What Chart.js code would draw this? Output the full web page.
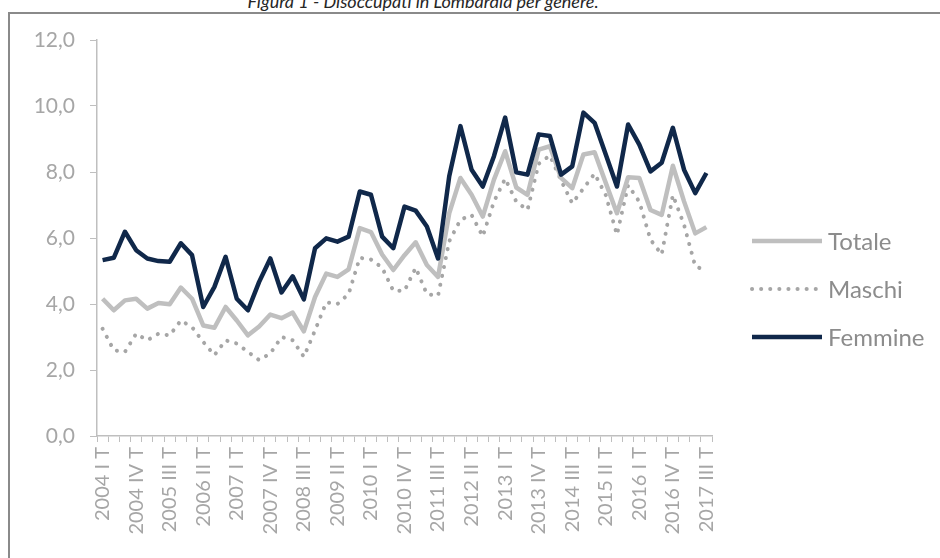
<!DOCTYPE html>
<html>
<head>
  <title>Disoccupati in Lombardia per genere</title>
  <script src="https://cdn.jsdelivr.net/npm/chart.js"></script>
  <style>
    body {
      margin: 0;
      padding: 0;
      width: 940px;
      height: 558px;
      overflow: hidden;
      background: #ffffff;
      position: relative;
      font-family: Lato, "Open Sans", sans-serif;
    }
    #title {
      position: absolute;
      top: -10px;
      left: 0;
      width: 846px;
      text-align: center;
      font-style: italic;
      font-size: 18px;
      color: #262626;
      white-space: nowrap;
    }
    #frame {
      position: absolute;
      left: 8px;
      top: 12px;
      width: 960px;
      height: 580px;
      border: 2px solid #8a8a8a;
    }
    #chart {
      position: absolute;
      left: 0;
      top: 0;
    }
  </style>
  <script>
    // quarters 2004 I T .. 2017 III T
    const quarters = [
      '2004 I T', '2004 II T', '2004 III T', '2004 IV T',
      '2005 I T', '2005 II T', '2005 III T', '2005 IV T',
      '2006 I T', '2006 II T', '2006 III T', '2006 IV T',
      '2007 I T', '2007 II T', '2007 III T', '2007 IV T',
      '2008 I T', '2008 II T', '2008 III T', '2008 IV T',
      '2009 I T', '2009 II T', '2009 III T', '2009 IV T',
      '2010 I T', '2010 II T', '2010 III T', '2010 IV T',
      '2011 I T', '2011 II T', '2011 III T', '2011 IV T',
      '2012 I T', '2012 II T', '2012 III T', '2012 IV T',
      '2013 I T', '2013 II T', '2013 III T', '2013 IV T',
      '2014 I T', '2014 II T', '2014 III T', '2014 IV T',
      '2015 I T', '2015 II T', '2015 III T', '2015 IV T',
      '2016 I T', '2016 II T', '2016 III T', '2016 IV T',
      '2017 I T', '2017 II T', '2017 III T'
    ];

    const totale = [
      4.16, 3.81, 4.11, 4.16, 3.86, 4.03, 3.99, 4.50, 4.16, 3.35,
      3.28, 3.91, 3.50, 3.05, 3.32, 3.68, 3.57, 3.74, 3.17, 4.21,
      4.92, 4.82, 5.05, 6.30, 6.18, 5.50, 5.03, 5.48, 5.87, 5.18,
      4.82, 6.75, 7.82, 7.31, 6.65, 7.77, 8.63, 7.53, 7.31, 8.68,
      8.78, 7.82, 7.51, 8.53, 8.60, 7.67, 6.75, 7.84, 7.82, 6.85,
      6.70, 8.19, 7.11, 6.14, 6.33
    ];

    const maschi = [
      3.25, 2.60, 2.55, 3.10, 2.90, 3.10, 3.05, 3.50, 3.30, 2.85,
      2.45, 2.90, 2.80, 2.55, 2.30, 2.50, 3.00, 2.90, 2.40, 3.20,
      4.05, 4.00, 4.30, 5.40, 5.35, 5.10, 4.40, 4.40, 5.10, 4.30,
      4.25, 5.90, 6.55, 6.70, 6.05, 7.10, 7.80, 7.10, 6.85, 8.25,
      8.50, 7.75, 7.05, 7.50, 7.95, 7.30, 6.10, 7.60, 7.10, 5.95,
      5.50, 7.30, 6.40, 5.15, 5.00
    ];

    const femmine = [
      5.33, 5.40, 6.19, 5.63, 5.38, 5.30, 5.28, 5.84, 5.48, 3.91,
      4.52, 5.43, 4.16, 3.81, 4.67, 5.38, 4.35, 4.84, 4.14, 5.69,
      5.99, 5.89, 6.04, 7.41, 7.31, 6.04, 5.69, 6.95, 6.83, 6.35,
      5.38, 7.87, 9.39, 8.07, 7.56, 8.48, 9.65, 7.99, 7.92, 9.14,
      9.09, 7.92, 8.17, 9.80, 9.49, 8.53, 7.56, 9.44, 8.83, 8.02,
      8.28, 9.34, 8.07, 7.36, 7.97
    ];

    const yTicks = [0, 2, 4, 6, 8, 10, 12];

    // legend drawn at the right, in the dataset order
    const sideLegend = {
      id: 'sideLegend',
      afterDraw(chart) {
        const c = chart.ctx;
        const x0 = 752, x1 = 822, rows = [241, 289, 337];
        chart.data.datasets.forEach((ds, i) => {
          const y = rows[i];
          c.save();
          c.strokeStyle = ds.borderColor;
          c.lineWidth = ds.borderWidth;
          c.lineCap = ds.borderCapStyle || 'butt';
          c.setLineDash(ds.borderDash || []);
          c.beginPath();
          c.moveTo(x0, y);
          c.lineTo(x1, y);
          c.stroke();
          c.setLineDash([]);
          c.fillStyle = '#8c8c8c';
          c.font = '24px Lato';
          c.textBaseline = 'middle';
          c.fillText(ds.label, 828, y + 1);
          c.restore();
        });
      }
    };

    let chart;
    window.onload = () => {
      const ctx = document.getElementById('chart').getContext('2d');
      chart = new Chart(ctx, {
        type: 'line',
        data: {
          labels: quarters,
          datasets: [{
            label: 'Totale',
            data: totale,
            borderColor: '#bfbfbf',
            borderWidth: 4.5,
            order: 1
          }, {
            label: 'Maschi',
            data: maschi,
            borderColor: '#a6a6a6',
            borderWidth: 4,
            borderDash: [0.1, 9],
            borderCapStyle: 'round',
            order: 2
          }, {
            label: 'Femmine',
            data: femmine,
            borderColor: '#10284a',
            borderWidth: 4.5,
            order: 0
          }]
        },
        options: {
          responsive: false,
          animation: false,
          layout: {
            padding: { left: 20, top: 40, right: 228, bottom: 0 }
          },
          elements: {
            point: { radius: 0 },
            line: { tension: 0, borderJoinStyle: 'round' }
          },
          scales: {
            x: {
              offset: true,
              afterFit: (s) => { s.height = 122; },
              border: { color: '#bfbfbf', width: 1.5 },
              grid: {
                offset: true,
                drawOnChartArea: false,
                tickLength: 6,
                color: '#bfbfbf',
                lineWidth: 1
              },
              ticks: {
                autoSkip: false,
                maxRotation: 90,
                minRotation: 90,
                padding: 5,
                color: '#a6a6a6',
                font: { family: 'Lato', size: 20 },
                callback: (v, i) => (i % 3 === 0 ? quarters[i] : '')
              }
            },
            y: {
              min: 0,
              max: 12,
              afterFit: (s) => { s.width = 77; },
              afterBuildTicks: (s) => { s.ticks = yTicks.map(v => ({ value: v })); },
              border: { color: '#bfbfbf', width: 1.5 },
              grid: {
                drawOnChartArea: false,
                tickLength: 7,
                color: '#bfbfbf'
              },
              ticks: {
                padding: 15,
                color: '#a6a6a6',
                font: { family: 'Lato', size: 21 },
                callback: (v) => v.toFixed(1).replace('.', ',')
              }
            }
          },
          plugins: {
            legend: { display: false },
            tooltip: { enabled: false }
          }
        },
        plugins: [sideLegend]
      });
    };
  </script>
</head>
<body>
  <div id="title">Figura 1 - Disoccupati in Lombardia per genere.</div>
  <div id="frame"></div>
  <canvas id="chart" width="940" height="558"></canvas>
</body>
</html>
